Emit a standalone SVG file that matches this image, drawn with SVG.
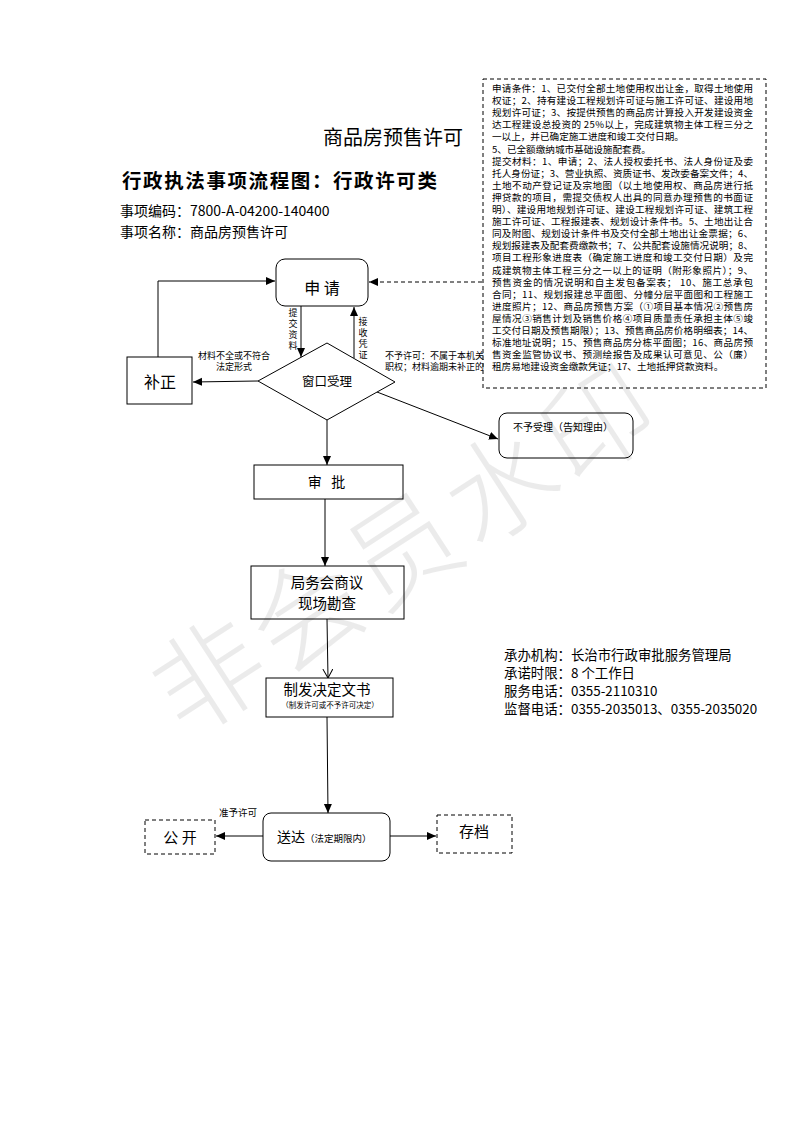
<svg xmlns="http://www.w3.org/2000/svg" width="793" height="1122" viewBox="0 0 793 1122">
<defs>
<style>
text{font-family:"Noto Sans CJK SC","Liberation Sans",sans-serif;fill:#000}
.box{fill:#fff;stroke:#000;stroke-width:1}
.dash{fill:#fff;stroke:#000;stroke-width:1;stroke-dasharray:4,3}
.ln{fill:none;stroke:#000;stroke-width:1}
.dl{fill:none;stroke:#000;stroke-width:1;stroke-dasharray:4,3}
.sm{font-size:9px}
.tb{font-size:9.6px}
.mid{text-anchor:middle}
</style>
<marker id="ah" markerUnits="userSpaceOnUse" markerWidth="10" markerHeight="10" refX="9" refY="4" orient="auto">
<path d="M0,0 L9,4 L0,8 z" fill="#000"/>
</marker>
<marker id="oa" markerUnits="userSpaceOnUse" markerWidth="12" markerHeight="12" refX="9" refY="5" orient="auto">
<path d="M0,0 L9,5 L0,10" fill="none" stroke="#000" stroke-width="1"/>
</marker>
</defs>
<rect width="793" height="1122" fill="#fff"/>

<g id="titles">
<text x="323" y="145" style="font-size:20px">商品房预售许可</text>
<text x="122" y="188" style="font-size:19.5px;font-weight:bold;letter-spacing:1.6px">行政执法事项流程图：行政许可类</text>
<text x="120" y="216" style="font-size:14px">事项编码：7800-A-04200-140400</text>
<text x="120" y="237" style="font-size:14px">事项名称：商品房预售许可</text>
</g>

<g id="conditions">
<rect class="dash" x="483" y="79" width="283" height="309"/>
<g class="tb" style="white-space:pre">
<text x="492" y="92" textLength="261" lengthAdjust="spacing">申请条件：1、已交付全部土地使用权出让金，取得土地使用</text>
<text x="492" y="104.1" textLength="261" lengthAdjust="spacing">权证；2、持有建设工程规划许可证与施工许可证、建设用地</text>
<text x="492" y="116.2" textLength="261" lengthAdjust="spacing">规划许可证；3、按提供预售的商品房计算投入开发建设资金</text>
<text x="492" y="128.3" textLength="261" lengthAdjust="spacing">达工程建设总投资的 25%以上，完成建筑物主体工程三分之</text>
<text x="492" y="140.4">一以上，并已确定施工进度和竣工交付日期。</text>
<text x="492" y="152.5">5、已全额缴纳城市基础设施配套费。</text>
<text x="492" y="164.6" textLength="261" lengthAdjust="spacing">提交材料：1、申请；2、法人授权委托书、法人身份证及委</text>
<text x="492" y="176.7" textLength="261" lengthAdjust="spacing">托人身份证；3、营业执照、资质证书、发改委备案文件；4、</text>
<text x="492" y="188.8" textLength="261" lengthAdjust="spacing">土地不动产登记证及宗地图（以土地使用权、商品房进行抵</text>
<text x="492" y="200.9" textLength="261" lengthAdjust="spacing">押贷款的项目，需提交债权人出具的同意办理预售的书面证</text>
<text x="492" y="213" textLength="261" lengthAdjust="spacing">明）、建设用地规划许可证、建设工程规划许可证、建筑工程</text>
<text x="492" y="225.1" textLength="261" lengthAdjust="spacing">施工许可证、工程报建表、规划设计条件书。5、土地出让合</text>
<text x="492" y="237.2" textLength="261" lengthAdjust="spacing">同及附图、规划设计条件书及交付全部土地出让金票据；6、</text>
<text x="492" y="249.3" textLength="261" lengthAdjust="spacing">规划报建表及配套费缴款书；7、公共配套设施情况说明；8、</text>
<text x="492" y="261.4" textLength="261" lengthAdjust="spacing">项目工程形象进度表（确定施工进度和竣工交付日期）及完</text>
<text x="492" y="273.5" textLength="261" lengthAdjust="spacing">成建筑物主体工程三分之一以上的证明（附形象照片）；9、</text>
<text x="492" y="285.6" textLength="261" lengthAdjust="spacing">预售资金的情况说明和自主发包备案表；   10、施工总承包</text>
<text x="492" y="297.7" textLength="261" lengthAdjust="spacing">合同；11、规划报建总平面图、分幢分层平面图和工程施工</text>
<text x="492" y="309.8" textLength="261" lengthAdjust="spacing">进度照片；12、商品房预售方案（①项目基本情况②预售房</text>
<text x="492" y="321.9" textLength="261" lengthAdjust="spacing">屋情况③销售计划及销售价格④项目质量责任承担主体⑤竣</text>
<text x="492" y="334" textLength="261" lengthAdjust="spacing">工交付日期及预售期限）；13、预售商品房价格明细表；14、</text>
<text x="492" y="346.1" textLength="261" lengthAdjust="spacing">标准地址说明；15、预售商品房分栋平面图；16、商品房预</text>
<text x="492" y="358.2" textLength="261" lengthAdjust="spacing">售资金监管协议书、预测绘报告及成果认可意见、公（廉）</text>
<text x="492" y="370.3">租房易地建设资金缴款凭证；17、土地抵押贷款资料。</text>
</g>
</g>

<g id="connectors">
<polyline class="ln" points="158,357 158,281 275,281" marker-end="url(#ah)"/>
<line class="ln" x1="301" y1="306" x2="301" y2="357" marker-end="url(#ah)"/>
<line class="ln" x1="354" y1="358" x2="354" y2="307" marker-end="url(#ah)"/>
<line class="ln" x1="258" y1="381" x2="193" y2="382" marker-end="url(#ah)"/>
<line class="dl" x1="482" y1="282" x2="369" y2="282" marker-end="url(#ah)"/>
<line class="ln" x1="377" y1="392" x2="498" y2="439" marker-end="url(#ah)"/>
<line class="ln" x1="327" y1="420" x2="327" y2="465" marker-end="url(#ah)"/>
<line class="ln" x1="325" y1="499" x2="325" y2="566" marker-end="url(#ah)"/>
<line class="ln" x1="327" y1="619" x2="328" y2="678" marker-end="url(#oa)"/>
<line class="ln" x1="327" y1="717" x2="328" y2="813" marker-end="url(#ah)"/>
<line class="ln" x1="263" y1="836" x2="216" y2="836" marker-end="url(#ah)"/>
<line class="ln" x1="390" y1="836" x2="436" y2="836" marker-end="url(#ah)"/>
</g>

<g id="labels" class="sm">
<text x="293" y="316" class="mid">提</text>
<text x="293" y="327" class="mid">交</text>
<text x="293" y="338" class="mid">资</text>
<text x="293" y="349" class="mid">料</text>
<text x="363" y="325" class="mid">接</text>
<text x="363" y="336" class="mid">收</text>
<text x="363" y="347" class="mid">凭</text>
<text x="363" y="358" class="mid">证</text>
<text x="234" y="359" class="mid">材料不全或不符合</text>
<text x="234" y="370" class="mid">法定形式</text>
<text x="385" y="359">不予许可：不属于本机关</text>
<text x="385" y="370">职权；材料逾期未补正的</text>
<text x="219" y="816" style="font-size:9.5px">准予许可</text>
</g>

<g id="n-apply">
<rect class="box" x="276" y="259" width="92" height="47" rx="9"/>
<text x="322" y="294" class="mid" style="font-size:16px">申 请</text>
</g>
<g id="n-correct">
<rect class="box" x="127" y="357" width="65" height="47"/>
<text x="160" y="388" class="mid" style="font-size:16px">补正</text>
</g>
<g id="n-window">
<polygon class="box" points="327,343 395,382 327,420 258,381"/>
<text x="327" y="386" class="mid" style="font-size:12.5px">窗口受理</text>
</g>
<g id="n-reject">
<rect class="box" x="499" y="413" width="134" height="45" rx="8"/>
<text x="513" y="431" style="font-size:10px">不予受理（告知理由）</text>
</g>
<g id="n-approve">
<rect class="box" x="254" y="465" width="149" height="34"/>
<text x="327" y="487" class="mid" style="font-size:14px;white-space:pre;letter-spacing:1px">审  批</text>
</g>
<g id="n-meeting">
<rect class="box" x="251" y="566" width="153" height="53"/>
<text x="327" y="588" class="mid" style="font-size:14.5px">局务会商议</text>
<text x="327" y="609" class="mid" style="font-size:14.5px">现场勘查</text>
</g>
<g id="n-decision">
<rect class="box" x="266" y="678" width="127" height="39"/>
<text x="327" y="695" class="mid" style="font-size:14.5px">制发决定文书</text>
<text x="330" y="708" class="mid" style="font-size:7.5px">（制发许可或不予许可决定）</text>
</g>
<g id="n-deliver">
<rect class="box" x="263" y="813" width="127" height="48" rx="8"/>
<text x="277" y="842" style="font-size:14px">送达<tspan style="font-size:9.5px">（法定期限内）</tspan></text>
</g>
<g id="n-public">
<rect class="dash" x="145" y="820" width="70" height="34"/>
<text x="180" y="843" class="mid" style="font-size:15px">公 开</text>
</g>
<g id="n-archive">
<rect class="dash" x="437" y="815" width="75" height="38"/>
<text x="474" y="837" class="mid" style="font-size:15px">存档</text>
</g>

<g id="info" style="font-size:13.4px">
<text x="504" y="660">承办机构：长治市行政审批服务管理局</text>
<text x="504" y="678">承诺时限：8 个工作日</text>
<text x="504" y="696">服务电话：0355-2110310</text>
<text x="504" y="714">监督电话：0355-2035013、0355-2035020</text>
</g>

<text x="407" y="588" class="mid" transform="rotate(-33 407 550)" style="font-size:110px;font-weight:300;fill:#000;fill-opacity:0.08;letter-spacing:6px">非会员水印</text>
</svg>
